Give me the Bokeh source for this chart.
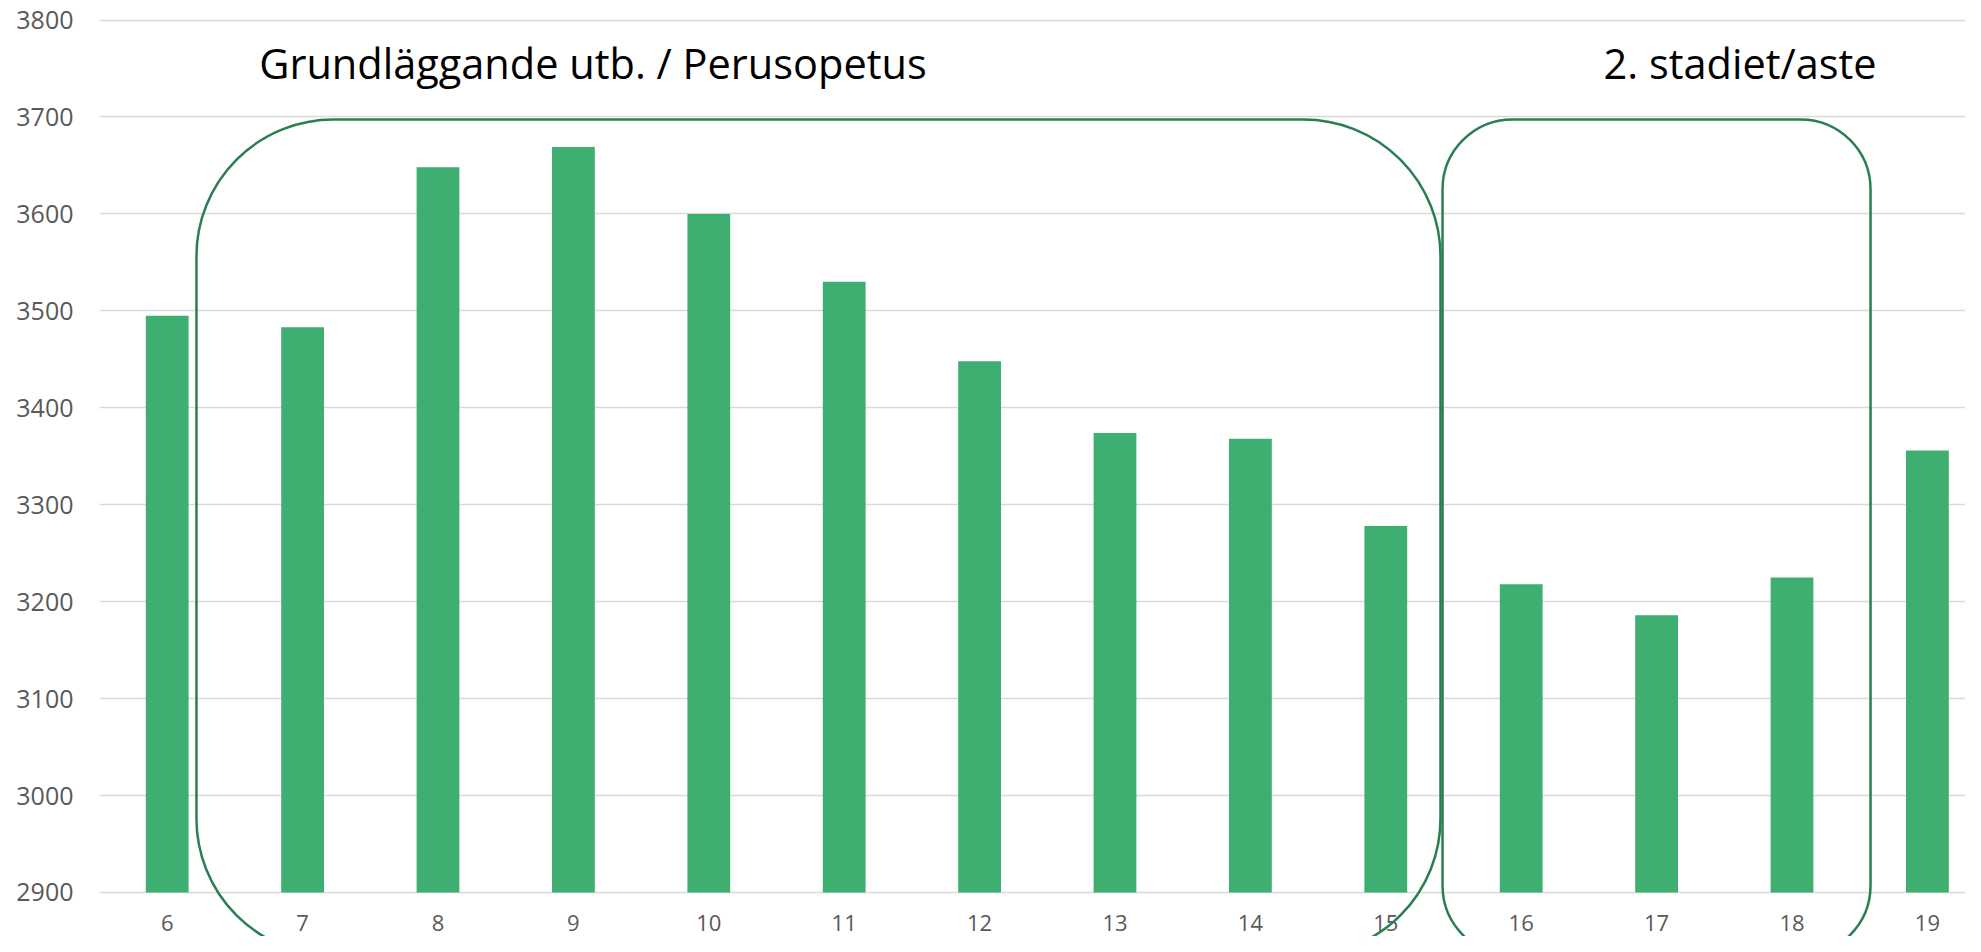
from bokeh.plotting import figure
from bokeh.models import Range1d, FixedTicker, BoxAnnotation, Label, ColumnDataSource
from bokeh.core.properties import value
from bokeh.embed import file_html
from bokeh.resources import INLINE

# ---- data ----
grades = [6, 7, 8, 9, 10, 11, 12, 13, 14, 15, 16, 17, 18, 19]
grade_labels = [str(g) for g in grades]
values = [3495, 3483, 3648, 3669, 3600, 3530, 3448, 3374, 3368, 3278, 3218, 3186, 3225, 3356]
y_ticks = [2900, 3000, 3100, 3200, 3300, 3400, 3500, 3600, 3700, 3800]
y_floor = 2900

group_basic = (7, 15)
group_basic_label = "Grundläggande utb. / Perusopetus"
group_upper = (16, 18)
group_upper_label = "2. stadiet/aste"

# ---- style ----
BAR = "#3eaf70"
BOX = "#2a7f52"
GRID = "#d9d9d9"
TXT = "#595959"
FONT = "Open Sans"

PX_PER_CAT = 135.4
PX_PER_UNIT = 0.9694
LEFT = 99
FW, FH = 1866, 936

p = figure(
    frame_width=FW, frame_height=FH,
    x_range=Range1d(5.5, 5.5 + FW / PX_PER_CAT),
    y_range=Range1d(2900 - (FH - 892) / PX_PER_UNIT, 3800 + 19.5 / PX_PER_UNIT),
    output_backend="svg", toolbar_location=None,
    x_axis_location=None,
    min_border_left=LEFT, min_border_right=0, min_border_top=0, min_border_bottom=0,
)
p.outline_line_color = None
p.background_fill_color = "white"
p.border_fill_color = "white"

# y axis
p.yaxis.ticker = FixedTicker(ticks=y_ticks)
p.yaxis.axis_line_color = None
p.yaxis.major_tick_line_color = None
p.yaxis.minor_tick_line_color = None
p.yaxis.major_tick_out = 0
p.yaxis.major_tick_in = 0
p.yaxis.major_label_standoff = 26
p.yaxis.major_label_text_font = FONT
p.yaxis.major_label_text_font_size = "25px"
p.yaxis.major_label_text_color = TXT

p.xgrid.grid_line_color = None
p.ygrid.ticker = FixedTicker(ticks=y_ticks)
p.ygrid.grid_line_color = GRID
p.ygrid.grid_line_width = 1.6

src = ColumnDataSource(dict(x=grades, top=values, lab=grade_labels,
                            base=[y_floor] * len(grades)))

p.vbar(x="x", top="top", bottom=y_floor, width=0.316, source=src,
       fill_color=BAR, line_color=None)

# category labels under the baseline
p.text(x="x", y="base", text="lab", source=src, y_offset=31,
       text_align="center", text_baseline="middle",
       text_font=value(FONT), text_font_size="22px", text_color=TXT)

# rounded group boxes
box_top = 3697.4
box_bottom = 2835
p.add_layout(BoxAnnotation(left=group_basic[0] - 0.784, right=group_basic[1] + 0.404,
                           top=box_top, bottom=box_bottom,
                           fill_color=None, fill_alpha=0,
                           line_color=BOX, line_alpha=1.0, line_width=2.5,
                           border_radius=137))
p.add_layout(BoxAnnotation(left=group_upper[0] - 0.581, right=group_upper[1] + 0.58,
                           top=box_top, bottom=box_bottom,
                           fill_color=None, fill_alpha=0,
                           line_color=BOX, line_alpha=1.0, line_width=2.5,
                           border_radius=70))

# group titles
title_y = 3756
p.add_layout(Label(x=group_basic[0] - 0.32, y=title_y, text=group_basic_label,
                   text_font=FONT, text_font_size="41.5px", text_color="black",
                   text_align="left", text_baseline="alphabetic"))
p.add_layout(Label(x=group_upper[0] + 0.608, y=title_y, text=group_upper_label,
                   text_font=FONT, text_font_size="41.5px", text_color="black",
                   text_align="left", text_baseline="alphabetic"))

open("out.html", "w").write(file_html(p, INLINE))
